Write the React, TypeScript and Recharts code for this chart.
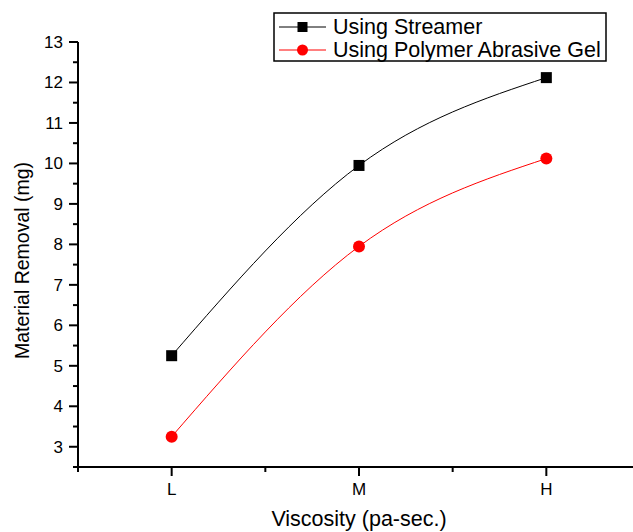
import { LineChart, Line, XAxis, YAxis } from 'recharts';

// viscosity levels and the removal measured for each abrasive medium
const levels = ['L', 'M', 'H'];
const streamer = [5.25, 9.95, 12.12];
const polymerGel = [3.25, 7.95, 10.12];

const xTicks = [0.5, 1, 1.5, 2, 2.5, 3, 3.5];
const yTicks = [2.5, 3, 3.5, 4, 4.5, 5, 5.5, 6, 6.5, 7, 7.5, 8, 8.5, 9, 9.5, 10, 10.5, 11, 11.5, 12, 12.5, 13];

const data = levels.map((level, i) => ({
  pos: i + 1,
  level,
  streamer: streamer[i],
  polymerGel: polymerGel[i],
}));

const FONT = '"Liberation Sans", Arial, sans-serif';

const XTick = ({ x, y, payload }: any) => {
  const v = payload.value as number;
  const major = Number.isInteger(v);
  return (
    <g>
      <line x1={x} x2={x} y1={y} y2={y + (major ? 9 : 5)} stroke="#000" strokeWidth={2} />
      {major && (
        <text x={x} y={y + 28} textAnchor="middle" fontSize={17} fontFamily={FONT} fill="#000">
          {levels[v - 1]}
        </text>
      )}
    </g>
  );
};

const YTick = ({ x, y, payload }: any) => {
  const v = payload.value as number;
  const major = Number.isInteger(v);
  return (
    <g>
      <line x1={x - (major ? 9 : 5)} x2={x} y1={y} y2={y} stroke="#000" strokeWidth={2} />
      {major && (
        <text x={x - 15} y={y + 6} textAnchor="end" fontSize={17} fontFamily={FONT} fill="#000">
          {v}
        </text>
      )}
    </g>
  );
};

const SquareDot = ({ cx, cy }: any) => (
  <rect x={cx - 5.5} y={cy - 5.5} width={11} height={11} fill="#000" />
);

const RoundDot = ({ cx, cy }: any) => <circle cx={cx} cy={cy} r={6} fill="#ff0000" />;

const LegendBox = () => (
  <svg
    width={334}
    height={50}
    style={{ position: 'absolute', left: 273, top: 12, fontFamily: FONT }}
  >
    <rect x={1} y={1} width={332} height={48} fill="#fff" stroke="#000" strokeWidth={1.5} />
    <line x1={6} x2={53} y1={15} y2={15} stroke="#000" strokeWidth={1} />
    <rect x={24.5} y={10} width={10} height={10} fill="#000" />
    <text x={60} y={22} fontSize={21.5} fill="#000">Using Streamer</text>
    <line x1={6} x2={53} y1={38} y2={38} stroke="#ff0000" strokeWidth={1} />
    <circle cx={29.5} cy={38} r={5.5} fill="#ff0000" />
    <text x={60} y={45} fontSize={21.5} fill="#000">Using Polymer Abrasive Gel</text>
  </svg>
);

export default function App() {
  return (
    <div
      style={{
        position: 'fixed',
        left: 0,
        top: 0,
        width: 633,
        height: 532,
        overflow: 'hidden',
        background: '#fff',
        fontFamily: FONT,
      }}
    >
      <LineChart width={640} height={532} data={data} margin={{ top: 42, right: 0, bottom: 0, left: 0 }}>
        <XAxis
          dataKey="pos"
          type="number"
          domain={[0.5, 3.5]}
          ticks={xTicks}
          interval={0}
          height={65}
          tickSize={0}
          tickMargin={0}
          tickLine={false}
          tick={<XTick />}
          axisLine={{ stroke: '#000', strokeWidth: 2 }}
          label={{
            content: ({ viewBox }: any) => (
              <text
                x={viewBox.x + viewBox.width / 2}
                y={viewBox.y + 59}
                textAnchor="middle"
                fontSize={21.5}
                fontFamily={FONT}
                fill="#000"
              >
                Viscosity (pa-sec.)
              </text>
            ),
          }}
        />
        <YAxis
          type="number"
          domain={[2.5, 13]}
          ticks={yTicks}
          interval={0}
          width={78}
          tickSize={0}
          tickMargin={0}
          tickLine={false}
          tick={<YTick />}
          axisLine={{ stroke: '#000', strokeWidth: 2 }}
          label={{
            content: ({ viewBox }: any) => (
              <text
                transform={`translate(29, ${viewBox.y + viewBox.height / 2 + 6}) rotate(-90)`}
                textAnchor="middle"
                fontSize={19.5}
                fontFamily={FONT}
                fill="#000"
              >
                Material Removal (mg)
              </text>
            ),
          }}
        />
        <Line
          type="natural"
          dataKey="streamer"
          stroke="#000"
          strokeWidth={1}
          dot={<SquareDot />}
          activeDot={false}
          isAnimationActive={false}
        />
        <Line
          type="natural"
          dataKey="polymerGel"
          stroke="#ff0000"
          strokeWidth={1}
          dot={<RoundDot />}
          activeDot={false}
          isAnimationActive={false}
        />
      </LineChart>
      <LegendBox />
    </div>
  );
}
